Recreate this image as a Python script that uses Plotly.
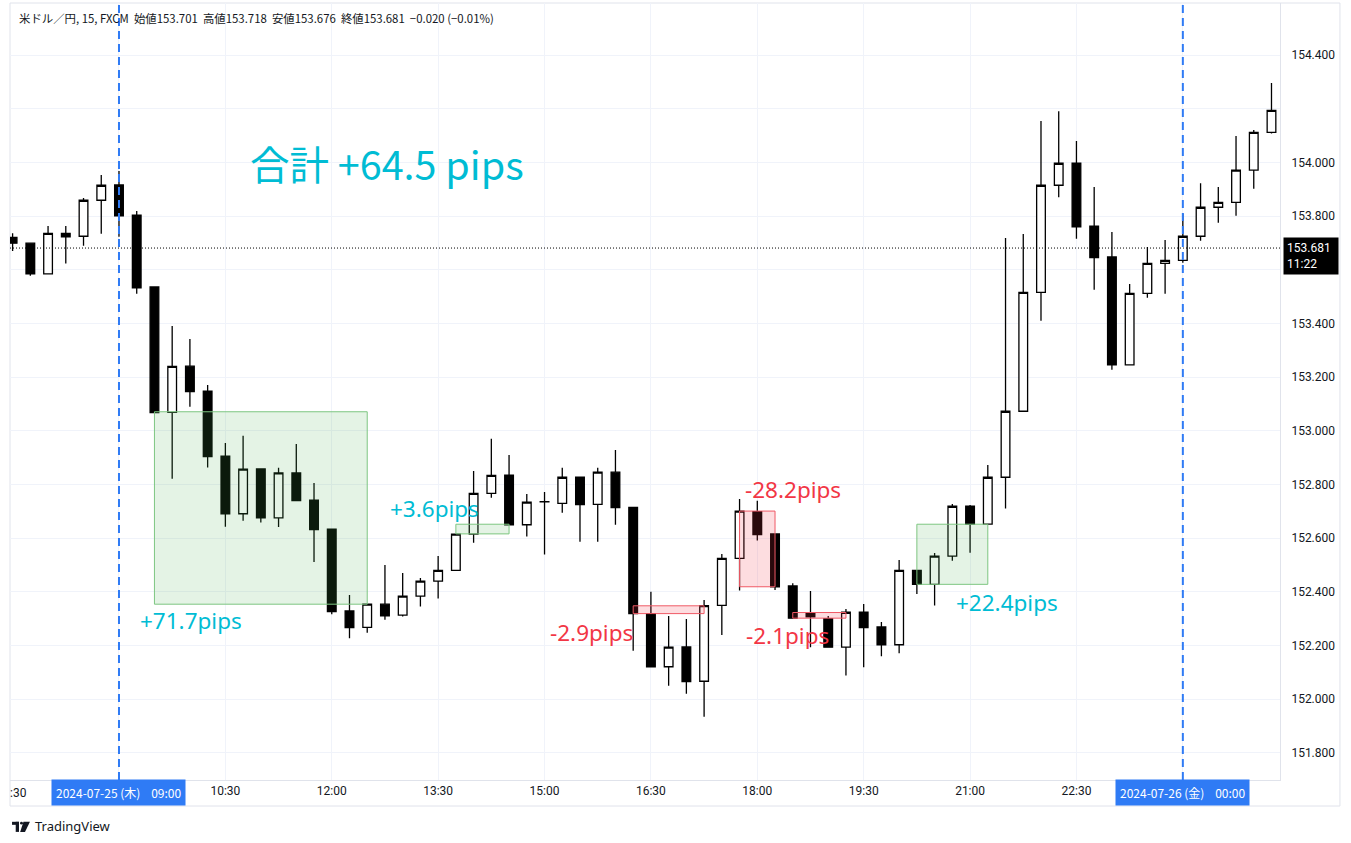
import plotly.graph_objects as go
import pandas as pd

# ---------------- data ----------------
times = pd.date_range("2024-07-25 07:30", periods=72, freq="15min")

opens = [153.721, 153.699, 153.585, 153.736, 153.725, 153.859, 153.916, 153.804, 153.536, 153.069,
         153.241, 153.148, 152.906, 152.691, 152.858, 152.676, 152.843, 152.742, 152.634, 152.329,
         152.268, 152.354, 152.313, 152.384, 152.440, 152.480, 152.615, 152.767, 152.835, 152.650,
         152.735, 152.730, 152.827, 152.726, 152.846, 152.715, 152.319, 152.121, 152.195, 152.067,
         152.350, 152.525, 152.699, 152.616, 152.422, 152.321, 152.300, 152.194, 152.324, 152.269,
         152.203, 152.480, 152.428, 152.533, 152.719, 152.652, 152.827, 153.073, 153.516, 153.915,
         153.997, 153.763, 153.648, 153.246, 153.512, 153.624, 153.635, 153.725, 153.833, 153.851,
         153.971, 154.112]
highs = [153.736, 153.700, 153.763, 153.763, 153.867, 153.953, 153.968, 153.819, 153.537, 153.391,
         153.342, 153.171, 152.955, 152.982, 152.861, 152.862, 152.951, 152.806, 152.635, 152.388,
         152.356, 152.500, 152.470, 152.452, 152.534, 152.616, 152.850, 152.970, 152.910, 152.765,
         152.772, 152.862, 152.828, 152.862, 152.929, 152.716, 152.400, 152.310, 152.299, 152.370,
         152.541, 152.746, 152.739, 152.617, 152.432, 152.403, 152.310, 152.336, 152.355, 152.288,
         152.519, 152.481, 152.545, 152.727, 152.724, 152.873, 153.718, 153.733, 154.154, 154.191,
         154.080, 153.908, 153.741, 153.547, 153.685, 153.711, 153.810, 153.922, 153.908, 154.098,
         154.121, 154.296]
lows = [153.670, 153.578, 153.582, 153.623, 153.690, 153.734, 153.723, 153.511, 153.066, 152.821,
        153.090, 152.863, 152.643, 152.665, 152.658, 152.642, 152.738, 152.511, 152.317, 152.227,
        152.248, 152.296, 152.308, 152.345, 152.375, 152.479, 152.583, 152.751, 152.648, 152.606,
        152.539, 152.695, 152.587, 152.587, 152.650, 152.181, 152.120, 152.050, 152.020, 151.935,
        152.239, 152.405, 152.591, 152.407, 152.301, 152.194, 152.193, 152.088, 152.119, 152.160,
        152.171, 152.392, 152.349, 152.516, 152.546, 152.651, 152.711, 153.072, 153.410, 153.870,
        153.716, 153.526, 153.228, 153.245, 153.496, 153.511, 153.626, 153.708, 153.775, 153.801,
        153.902, 154.108]
closes = [153.699, 153.585, 153.736, 153.723, 153.859, 153.915, 153.801, 153.533, 153.068, 153.240,
          153.146, 152.904, 152.691, 152.857, 152.676, 152.843, 152.740, 152.632, 152.326, 152.267,
          152.354, 152.311, 152.384, 152.440, 152.480, 152.615, 152.767, 152.834, 152.650, 152.734,
          152.736, 152.827, 152.725, 152.846, 152.714, 152.319, 152.121, 152.194, 152.066, 152.349,
          152.525, 152.701, 152.613, 152.419, 152.302, 152.307, 152.194, 152.324, 152.267, 152.203,
          152.480, 152.428, 152.533, 152.719, 152.652, 152.827, 153.073, 153.516, 153.915, 153.997,
          153.760, 153.645, 153.246, 153.512, 153.624, 153.635, 153.725, 153.833, 153.851, 153.971,
          154.112, 154.194]

price_ticks = [151.8, 152.0, 152.2, 152.4, 152.6, 152.8, 153.0, 153.2, 153.4, 153.6, 153.8, 154.0, 154.2, 154.4]
price_tick_text = ["151.800", "152.000", "152.200", "152.400", "152.600", "152.800", "153.000",
                   "153.200", "153.400", "", "153.800", "154.000", "", "154.400"]
time_ticks = ["2024-07-25 09:00", "2024-07-25 10:30", "2024-07-25 12:00", "2024-07-25 13:30",
              "2024-07-25 15:00", "2024-07-25 16:30", "2024-07-25 18:00", "2024-07-25 19:30",
              "2024-07-25 21:00", "2024-07-25 22:30", "2024-07-26 00:00"]
time_tick_text = ["", "10:30", "12:00", "13:30", "15:00", "16:30", "18:00", "19:30", "21:00", "22:30", ""]

# trade boxes
box_start = ["2024-07-25 09:30", "2024-07-25 13:45", "2024-07-25 16:15",
             "2024-07-25 17:45", "2024-07-25 18:30", "2024-07-25 20:15"]
box_end = ["2024-07-25 12:30", "2024-07-25 14:30", "2024-07-25 17:15",
           "2024-07-25 18:15", "2024-07-25 19:15", "2024-07-25 21:15"]
box_top = [153.071, 152.652, 152.348, 152.701, 152.323, 152.652]
box_bottom = [152.354, 152.616, 152.319, 152.419, 152.302, 152.428]
box_win = [True, True, False, False, False, True]
label_text = ["+71.7pips", "+3.6pips", "-2.9pips", "-28.2pips", "-2.1pips", "+22.4pips"]
label_time = ["2024-07-25 10:01", "2024-07-25 13:26:30", "2024-07-25 15:39:20",
              "2024-07-25 18:30:20", "2024-07-25 18:25:10", "2024-07-25 21:31:20"]
label_price = [152.292, 152.709, 152.250, 152.780, 152.239, 152.362]

total_text = "合計 +64.5 pips"
total_time = "2024-07-25 12:46:30"
total_price = 153.998

header_text = "米ドル／円, 15, FXCM  始値153.701  高値153.718  安値153.676  終値153.681  −0.020 (−0.01%)"
last_price = 153.681
countdown = "11:22"
session_lines = ["2024-07-25 09:00", "2024-07-26 00:00"]
session_labels = ["2024-07-25 (木)    09:00", "2024-07-26 (金)    00:00"]

x_range = ["2024-07-25 07:27:48", "2024-07-26 01:22:12"]
y_range = [151.699, 154.594]

# ---------------- figure ----------------
CYAN = "#00BCD4"
RED = "#F23645"
BLUE = "#2F7BF5"
TXT = "#131722"
GRID = "#F0F3FA"
BORDER = "#E0E3EB"

fig = go.Figure()
fig.add_trace(go.Candlestick(
    x=times, open=opens, high=highs, low=lows, close=closes,
    increasing=dict(line=dict(color="#000000", width=1.3), fillcolor="#FFFFFF"),
    decreasing=dict(line=dict(color="#000000", width=1.3), fillcolor="#000000"),
    whiskerwidth=0, showlegend=False, hoverinfo="skip",
))

shapes = []
# outer border
shapes.append(dict(type="rect", xref="paper", yref="paper", x0=0, x1=1.0472, y0=-0.0335, y1=1,
                   line=dict(color=BORDER, width=1), fillcolor="rgba(0,0,0,0)", layer="below"))
# last price dotted line
shapes.append(dict(type="line", xref="paper", yref="y", x0=0, x1=1, y0=last_price, y1=last_price,
                   line=dict(color="#000000", width=1, dash="1px,2px"), layer="above"))
# trade boxes
for x0, x1, y1, y0, win in zip(box_start, box_end, box_top, box_bottom, box_win):
    shapes.append(dict(
        type="rect", xref="x", yref="y", x0=x0, x1=x1, y0=y0, y1=y1,
        fillcolor="rgba(76,175,80,0.15)" if win else "rgba(242,54,69,0.17)",
        line=dict(color="#7DC681" if win else "#F05A66", width=1), layer="above"))
# session dashed lines
for t in session_lines:
    shapes.append(dict(type="line", xref="x", yref="paper", x0=t, x1=t, y0=0, y1=1,
                       line=dict(color=BLUE, width=2, dash="8px,5px"), layer="above"))
# TradingView logo (small glyph)
shapes.append(dict(type="rect", xref="paper", yref="paper", x0=0.0016, x1=0.0071, y0=-0.0538, y1=-0.0577,
                   fillcolor=TXT, line=dict(width=0)))
shapes.append(dict(type="rect", xref="paper", yref="paper", x0=0.0045, x1=0.0071, y0=-0.0538, y1=-0.0668,
                   fillcolor=TXT, line=dict(width=0)))
shapes.append(dict(type="circle", xref="paper", yref="paper", x0=0.0079, x1=0.0102, y0=-0.0538, y1=-0.0574,
                   fillcolor=TXT, line=dict(width=0)))
shapes.append(dict(type="path", xref="paper", yref="paper",
                   path="M 0.0106,-0.0538 L 0.0157,-0.0538 L 0.0118,-0.0668 L 0.0080,-0.0668 Z",
                   fillcolor=TXT, line=dict(width=0)))

annotations = []
for txt, t, p, win in zip(label_text, label_time, label_price, box_win):
    annotations.append(dict(x=t, y=p, xref="x", yref="y", text=txt, showarrow=False,
                            xanchor="center", yanchor="middle",
                            font=dict(family="Noto Sans", size=22.5, color=CYAN if win else RED)))
annotations.append(dict(x=total_time, y=total_price, xref="x", yref="y", text=total_text, showarrow=False,
                        xanchor="center", yanchor="middle",
                        font=dict(family="Noto Sans CJK JP", size=39.5, color=CYAN)))
annotations.append(dict(x=0.0055, y=0.9807, xref="paper", yref="paper", text=header_text, showarrow=False,
                        xanchor="left", yanchor="middle",
                        font=dict(family="Noto Sans CJK JP", size=11.4, color=TXT)))
for t, lab in zip(session_lines, session_labels):
    annotations.append(dict(x=t, y=-0.0167, xref="x", yref="paper", text=lab, showarrow=False,
                            xanchor="center", yanchor="middle", bgcolor=BLUE, borderpad=4,
                            font=dict(family="Noto Sans CJK JP", size=12, color="#FFFFFF")))
annotations.append(dict(x=0.0063, y=-0.0167, xref="paper", yref="paper", text=":30", showarrow=False,
                        xanchor="center", yanchor="middle", font=dict(family="Roboto", size=12, color=TXT)))
annotations.append(dict(x=1.0024, y=153.652, xref="paper", yref="y",
                        text=f"{last_price:.3f}<br>{countdown}", showarrow=False, align="left",
                        xanchor="left", yanchor="middle", bgcolor="#000000", borderpad=3, width=48,
                        font=dict(family="Roboto", size=12, color="#FFFFFF")))
annotations.append(dict(x=0.0181, y=-0.0592, xref="paper", yref="paper", text="TradingView", showarrow=False,
                        xanchor="left", yanchor="middle", font=dict(family="Noto Sans", size=13, color=TXT)))

fig.update_layout(
    width=1351, height=843,
    margin=dict(l=10, r=71, t=3, b=63),
    paper_bgcolor="#FFFFFF", plot_bgcolor="#FFFFFF",
    shapes=shapes, annotations=annotations,
    showlegend=False, hovermode=False,
    xaxis=dict(type="date", range=x_range, rangeslider=dict(visible=False),
               tickmode="array", tickvals=time_ticks, ticktext=time_tick_text,
               showgrid=True, gridcolor=GRID, gridwidth=1, zeroline=False,
               showline=True, linecolor=BORDER, linewidth=1, ticks="",
               tickfont=dict(family="Roboto", size=12, color=TXT)),
    yaxis=dict(side="right", range=y_range, tickmode="array", tickvals=price_ticks, ticktext=price_tick_text,
               showgrid=True, gridcolor=GRID, gridwidth=1, zeroline=False,
               showline=True, linecolor=BORDER, linewidth=1, ticks="", ticklabelstandoff=8,
               tickfont=dict(family="Roboto", size=12, color=TXT)),
)

fig.write_html("out.html")
